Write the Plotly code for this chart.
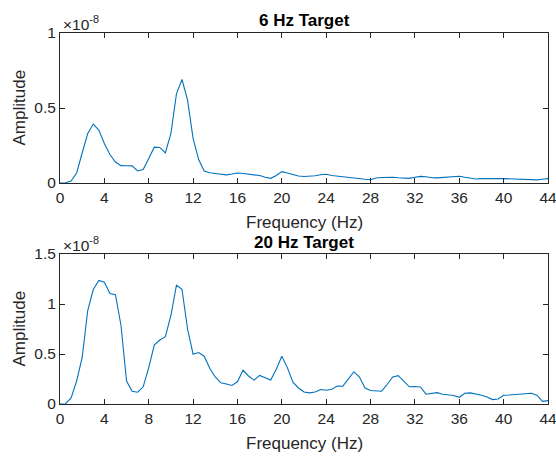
import numpy as np
import plotly.graph_objects as go

# Frequency axis (Hz), 0.5 Hz bins
freq = np.arange(0, 44.01, 0.5)

# Spectrum amplitudes, in units of 1e-8
amp_6hz = [
    0.0, 0.002, 0.013, 0.067, 0.2, 0.33, 0.393, 0.353, 0.263, 0.19,
    0.14, 0.116, 0.115, 0.114, 0.08, 0.09, 0.163, 0.239, 0.237, 0.2,
    0.33, 0.594, 0.69, 0.553, 0.297, 0.156, 0.08, 0.068, 0.063, 0.058,
    0.054, 0.06, 0.067, 0.063, 0.058, 0.054, 0.05, 0.038, 0.031, 0.05,
    0.076, 0.067, 0.055, 0.047, 0.043, 0.045, 0.048, 0.055, 0.058, 0.05,
    0.045, 0.04, 0.037, 0.035, 0.03, 0.025, 0.022, 0.033, 0.037, 0.04,
    0.038, 0.035, 0.032, 0.031, 0.038, 0.044, 0.042, 0.035, 0.034, 0.037,
    0.04, 0.042, 0.045, 0.038, 0.03, 0.027, 0.029, 0.031, 0.031, 0.03,
    0.029, 0.028, 0.027, 0.025, 0.022, 0.02, 0.021, 0.025, 0.029,
]
amp_20hz = [
    0.0, 0.003, 0.06, 0.23, 0.465, 0.935, 1.145, 1.235, 1.218, 1.104,
    1.094, 0.785, 0.229, 0.128, 0.118, 0.172, 0.364, 0.589, 0.64, 0.673,
    0.885, 1.188, 1.148, 0.75, 0.498, 0.515, 0.478, 0.357, 0.27, 0.212,
    0.2, 0.185, 0.222, 0.337, 0.28, 0.239, 0.286, 0.263, 0.239, 0.347,
    0.478, 0.364, 0.219, 0.16, 0.12, 0.111, 0.12, 0.145, 0.138, 0.148,
    0.18, 0.178, 0.246, 0.323, 0.27, 0.16, 0.135, 0.13, 0.128, 0.195,
    0.27, 0.283, 0.229, 0.172, 0.175, 0.17, 0.098, 0.105, 0.114, 0.098,
    0.094, 0.085, 0.067, 0.108, 0.111, 0.1, 0.088, 0.07, 0.044, 0.05,
    0.088, 0.09, 0.094, 0.104, 0.106, 0.108, 0.088, 0.027, 0.034,
]

x_ticks = list(range(0, 45, 4))
y_ticks_top = [0, 0.5, 1]
y_ticks_bot = [0, 0.5, 1, 1.5]
titles = ["6 Hz Target", "20 Hz Target"]
x_label = "Frequency (Hz)"
y_label = "Amplitude"
exponent = "\u00d710<sup>-8</sup>"

W, H = 556, 459
FONT = "Liberation Sans, Arial, Helvetica, sans-serif"
AX = "#262626"
LINE = "#0072BD"
TICK_SIZE = 15.5
LABEL_SIZE = 17

left, right = 60, 548
top_box = (33, 183)
bot_box = (254, 404)


def py(px):
    """pixel row -> paper fraction"""
    return 1 - px / H


def px_x(px):
    """pixel column -> paper fraction (paper spans the plotting width)"""
    return (px - left) / (right - left)


fig = go.Figure()
fig.add_trace(go.Scatter(x=freq, y=amp_6hz, mode="lines",
                         line=dict(color=LINE, width=1.1),
                         xaxis="x", yaxis="y", showlegend=False))
fig.add_trace(go.Scatter(x=freq, y=amp_20hz, mode="lines",
                         line=dict(color=LINE, width=1.1),
                         xaxis="x2", yaxis="y2", showlegend=False))

common_x = dict(
    range=[0, 44], tickvals=x_ticks, ticks="inside", ticklen=5,
    tickcolor=AX, showline=True, linecolor=AX, linewidth=1, mirror="ticks",
    showgrid=False, zeroline=False, domain=[0, 1], automargin=False,
    ticklabeloverflow="allow",
    tickfont=dict(family=FONT, size=TICK_SIZE, color=AX),
)
common_y = dict(
    ticks="inside", ticklen=5, tickcolor=AX, showline=True, linecolor=AX,
    linewidth=1, mirror="ticks", showgrid=False, zeroline=False,
    automargin=False, ticklabeloverflow="allow",
    tickfont=dict(family=FONT, size=TICK_SIZE, color=AX),
)

fig.update_layout(
    width=W, height=H,
    margin=dict(l=left, r=W - right, t=0, b=0, autoexpand=False),
    paper_bgcolor="white", plot_bgcolor="white",
    xaxis=dict(**common_x, anchor="y"),
    yaxis=dict(**common_y, range=[0, 1], tickvals=y_ticks_top,
               ticktext=["0", "0.5", "1"],
               domain=[py(top_box[1]), py(top_box[0])], anchor="x"),
    xaxis2=dict(**common_x, anchor="y2"),
    yaxis2=dict(**common_y, range=[0, 1.5], tickvals=y_ticks_bot,
                ticktext=["0", "0.5", "1", "1.5"],
                domain=[py(bot_box[1]), py(bot_box[0])], anchor="x2"),
)

annotations = []
for title, box in zip(titles, [top_box, bot_box]):
    # subplot title
    annotations.append(dict(
        text="<b>%s</b>" % title, xref="paper", yref="paper",
        x=0.5, y=py(box[0] - 12), xanchor="center", yanchor="middle",
        showarrow=False, font=dict(family=FONT, size=LABEL_SIZE, color="black"),
    ))
    # shared exponent of the y axis
    annotations.append(dict(
        text=exponent, xref="paper", yref="paper",
        x=0.0, xshift=1, y=py(box[0] - 10), xanchor="left", yanchor="middle",
        showarrow=False, font=dict(family=FONT, size=TICK_SIZE, color=AX),
    ))
    # x-axis label
    annotations.append(dict(
        text=x_label, xref="paper", yref="paper",
        x=0.5, y=py(box[1] + 39), xanchor="center", yanchor="middle",
        showarrow=False, font=dict(family=FONT, size=LABEL_SIZE, color=AX),
    ))
    # y-axis label
    annotations.append(dict(
        text=y_label, xref="paper", yref="paper", textangle=-90,
        x=px_x(18.5), y=py((box[0] + box[1]) / 2),
        xanchor="center", yanchor="middle",
        showarrow=False, font=dict(family=FONT, size=LABEL_SIZE, color=AX),
    ))
fig.update_layout(annotations=annotations)

fig.write_html("out.html")
